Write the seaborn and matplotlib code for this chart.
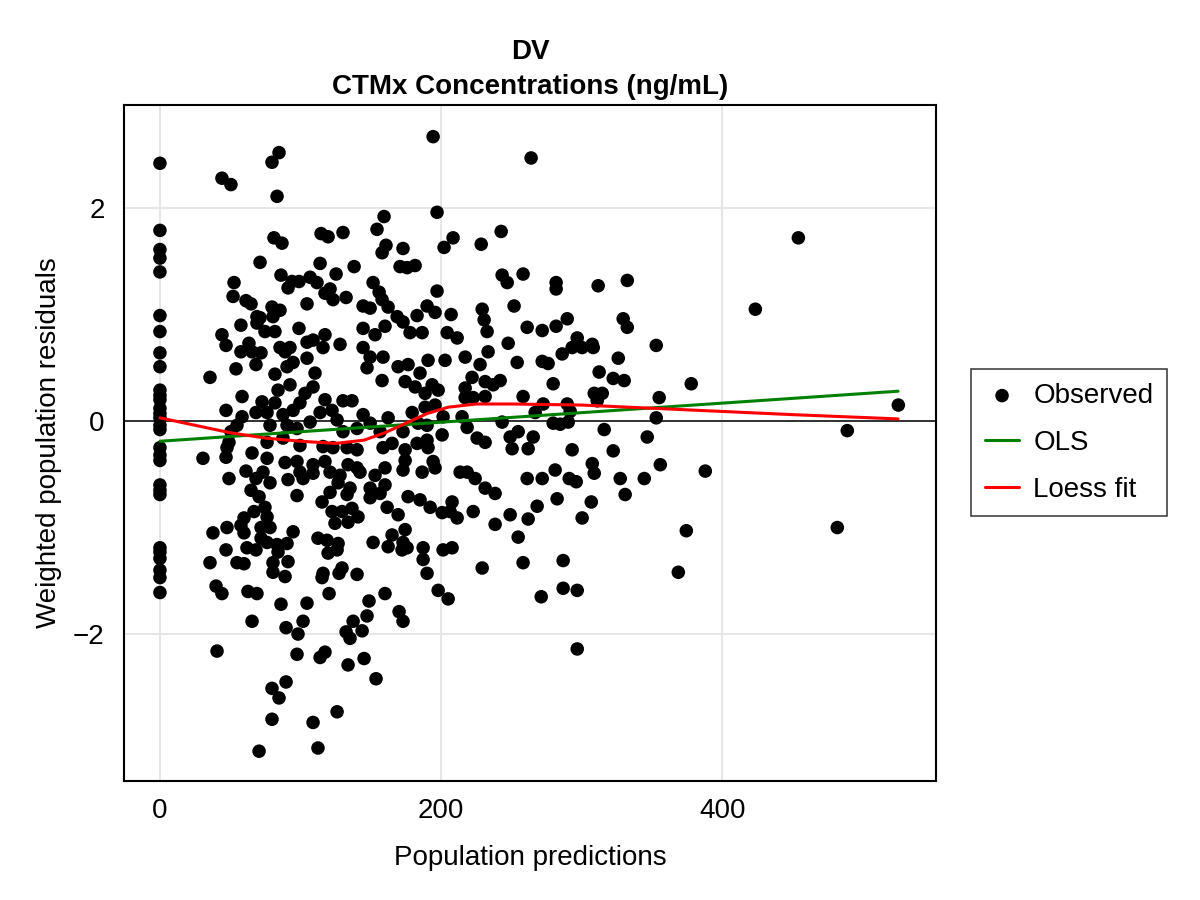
import numpy as np
import pandas as pd
import matplotlib
matplotlib.use("Agg")
import matplotlib.pyplot as plt
import seaborn as sns

# Observationer med populasjonsprediksjon lik 0
pred_zero = [0, 0, 0, 0, 0, 0, 0, 0, 0, 0,
             0, 0, 0, 0, 0, 0, 0, 0, 0, 0,
             0, 0, 0, 0, 0, 0, 0, 0, 0]
res_zero = [2.42, 1.79, 1.61, 1.53, 1.40, 0.99, 0.84, 0.64, 0.51, 0.29,
            0.24, 0.20, 0.12, 0.07, 0.03, -0.04, -0.08, -0.25, -0.32, -0.37,
            -0.60, -0.65, -0.69, -1.19, -1.23, -1.29, -1.40, -1.47, -1.61]

# Øvre del av punktskyen (residual > ~0.85)
pred_upper = [44.1, 50.5, 79.7, 84.7, 83.3, 194.3, 264.0, 197.1,
              159.4, 154.4, 81.1, 86.8, 114.6, 119.6, 130.2, 160.8, 158.0, 71.2,
              113.9, 138.1, 125.3, 86.1, 106.8, 93.9, 98.9, 111.7, 91.1, 151.6,
              155.9, 158.0, 121.0, 117.4, 123.1, 132.4, 104.6, 79.7, 85.4, 80.4,
              71.2, 144.5, 149.5, 162.3, 98.9, 144.5, 160.1,
              52.7, 52.0, 61.2, 64.8, 69.0, 69.0, 57.6,
              202.1, 208.5, 228.5, 242.7, 172.9, 170.8, 175.8, 181.5, 197.1, 243.4,
              247.0, 258.3, 168.7, 172.9, 182.9, 190.0, 195.7, 207.1, 229.2, 230.6, 251.9,
              281.8, 281.8, 311.7, 332.4, 289.7, 261.2, 271.9, 281.8, 329.5, 332.4, 454.1, 423.5]
res_upper = [2.28, 2.22, 2.43, 2.52, 2.11, 2.67, 2.47, 1.96,
             1.92, 1.80, 1.72, 1.67, 1.76, 1.73, 1.77, 1.65, 1.58, 1.49,
             1.48, 1.45, 1.38, 1.37, 1.35, 1.31, 1.31, 1.30, 1.25, 1.30,
             1.21, 1.14, 1.24, 1.20, 1.14, 1.16, 1.10, 1.07, 1.04, 0.98,
             0.97, 1.08, 1.06, 1.07, 0.87, 0.87, 0.89,
             1.30, 1.17, 1.13, 1.10, 0.98, 0.92, 0.90,
             1.63, 1.72, 1.66, 1.78, 1.62, 1.45, 1.44, 1.46, 1.22, 1.37,
             1.30, 1.38, 0.98, 0.93, 0.99, 1.08, 1.02, 1.00, 1.05, 0.95, 1.08,
             1.30, 1.24, 1.27, 1.32, 0.96, 0.88, 0.85, 0.89, 0.96, 0.88, 1.72, 1.05]

# Midtre del, venstre side (prediksjon < ~75)
pred_mid_left = [44.1, 47.0, 63.3, 57.6, 65.5, 71.9, 68.3, 54.1, 35.6, 58.4,
                 47.0, 58.4, 68.3, 72.6, 54.8, 50.5, 49.1, 47.7, 30.6, 47.0,
                 65.5, 61.2, 49.1, 68.3, 64.8, 70.5, 66.9, 59.8, 57.6, 47.7,
                 37.7, 59.8, 71.9, 47.0, 61.9, 68.3, 71.9]
res_mid_left = [0.81, 0.71, 0.73, 0.65, 0.65, 0.64, 0.53, 0.49, 0.41, 0.23,
                0.10, 0.04, 0.08, 0.18, -0.04, -0.10, -0.20, -0.25, -0.35, -0.34,
                -0.30, -0.47, -0.54, -0.54, -0.65, -0.71, -0.85, -0.91, -0.98, -1.00,
                -1.05, -1.05, -1.00, -1.21, -1.19, -1.21, -1.10]

# Midtre del, sentrum (prediksjon ~75-165)
pred_mid_center = [74.7, 81.8, 153.0, 85.4, 92.5, 89.0, 104.6, 108.9, 117.4, 116.0,
                   128.1, 144.5, 149.5, 158.7, 104.6, 81.8, 90.4, 94.7, 110.3, 147.3,
                   158.0, 92.5, 84.0, 108.9, 103.2, 81.8, 99.6, 117.4, 130.2, 136.6,
                   94.7, 87.5, 76.2, 113.9, 122.4, 106.8, 126.0, 144.5, 149.5, 162.3,
                   78.3, 90.4, 97.5, 130.2, 140.2, 156.6, 76.2, 87.5, 99.6, 116.0,
                   123.1, 133.1, 140.2, 158.7, 76.2, 89.0, 97.5, 108.9, 117.4, 133.8,
                   140.2, 160.1, 73.3, 99.6, 108.9, 121.0, 128.1, 142.3, 153.0, 78.3,
                   91.1, 101.8, 126.7, 135.2, 149.5, 160.1, 121.0, 97.5, 133.1, 149.5,
                   156.6, 74.7, 115.3, 122.4, 129.5, 136.6, 76.2, 124.5, 133.8, 140.9,
                   161.6, 78.3, 94.7, 112.4, 118.9, 126.7, 76.2, 83.3, 90.4, 151.6,
                   162.3, 126.0]
res_mid_center = [0.84, 0.84, 0.81, 0.69, 0.69, 0.65, 0.74, 0.76, 0.81, 0.69,
                  0.72, 0.69, 0.60, 0.60, 0.59, 0.44, 0.51, 0.55, 0.45, 0.50,
                  0.38, 0.34, 0.29, 0.32, 0.26, 0.17, 0.17, 0.20, 0.19, 0.19,
                  0.10, 0.06, 0.08, 0.08, 0.10, -0.01, 0.01, 0.06, -0.02, 0.03,
                  -0.04, -0.04, -0.07, -0.10, -0.07, -0.10, -0.20, -0.16, -0.23, -0.24,
                  -0.25, -0.25, -0.27, -0.25, -0.35, -0.39, -0.38, -0.41, -0.38, -0.41,
                  -0.44, -0.44, -0.48, -0.48, -0.49, -0.48, -0.51, -0.48, -0.51, -0.58,
                  -0.55, -0.54, -0.58, -0.63, -0.63, -0.60, -0.67, -0.70, -0.69, -0.72,
                  -0.68, -0.81, -0.76, -0.85, -0.85, -0.82, -0.90, -0.96, -0.95, -0.90,
                  -0.81, -1.00, -1.04, -1.10, -1.12, -1.15, -1.14, -1.16, -1.15, -1.14,
                  -1.18, -1.21]

# Midtre del, høyre side (prediksjon ~165-260)
pred_mid_right = [177.9, 186.5, 204.3, 211.4, 232.7, 247.7, 169.4, 176.5, 190.7, 185.0,
                  202.8, 217.1, 233.4, 227.7, 254.1, 174.4, 181.5, 188.6, 193.6, 197.9,
                  222.0, 231.3, 242.0, 237.0, 217.1, 217.1, 222.8, 231.3, 258.3, 188.6,
                  195.7, 179.4, 201.4, 214.9, 183.6, 190.0, 172.9, 218.5, 243.4, 254.8,
                  200.7, 225.6, 231.3, 182.9, 190.0, 190.7, 165.1, 174.4, 249.1, 250.5,
                  174.4, 172.9, 194.3, 195.7, 186.5, 213.5, 218.5, 224.2, 231.3, 238.4,
                  176.5, 185.0, 192.2, 207.8, 200.7, 206.4, 211.4, 222.8, 169.4, 249.1,
                  238.4, 174.4, 165.1, 254.8, 172.9, 175.8, 187.2, 201.4, 207.8]
res_mid_right = [0.83, 0.83, 0.83, 0.78, 0.84, 0.73, 0.51, 0.53, 0.57, 0.45,
                 0.57, 0.60, 0.65, 0.53, 0.55, 0.37, 0.32, 0.26, 0.34, 0.29,
                 0.41, 0.37, 0.38, 0.34, 0.31, 0.22, 0.22, 0.23, 0.23, 0.13,
                 0.15, 0.08, 0.04, 0.04, -0.02, -0.04, -0.10, -0.06, -0.01, -0.10,
                 -0.13, -0.16, -0.20, -0.21, -0.18, -0.25, -0.21, -0.27, -0.15, -0.26,
                 -0.37, -0.46, -0.38, -0.44, -0.48, -0.48, -0.48, -0.54, -0.63, -0.68,
                 -0.71, -0.74, -0.81, -0.76, -0.86, -0.85, -0.91, -0.85, -0.88, -0.88,
                 -0.97, -1.02, -1.07, -1.09, -1.14, -1.19, -1.19, -1.21, -1.19]

# Midtre del, ytterst til høyre (prediksjon > 260)
pred_mid_far = [296.8, 293.2, 300.3, 307.5, 308.2, 353.0, 286.1, 271.9, 276.1, 326.0,
                312.4, 322.4, 330.2, 279.7, 377.9, 308.9, 314.6, 311.0, 355.1, 272.6,
                289.7, 266.9, 291.8, 525.2, 353.0, 279.7, 284.7, 290.4, 265.5, 316.0,
                346.6, 488.9, 261.9, 293.2, 322.4, 307.5, 308.9, 281.1, 355.9, 387.9,
                261.2, 271.9, 291.1, 296.1, 327.4, 344.5, 330.9, 282.5, 306.8, 268.3,
                261.9, 300.3, 374.4, 481.8]
res_mid_far = [0.78, 0.69, 0.69, 0.72, 0.69, 0.71, 0.63, 0.56, 0.54, 0.59,
               0.46, 0.40, 0.38, 0.35, 0.35, 0.26, 0.26, 0.19, 0.22, 0.16,
               0.16, 0.08, 0.09, 0.15, 0.03, -0.02, -0.03, -0.01, -0.15, -0.08,
               -0.15, -0.09, -0.26, -0.27, -0.28, -0.40, -0.49, -0.46, -0.41, -0.47,
               -0.54, -0.54, -0.54, -0.57, -0.54, -0.54, -0.69, -0.73, -0.76, -0.80,
               -0.92, -0.91, -1.03, -1.00]

# Nedre del av punktskyen (residual < ~-1.2)
pred_lower = [35.6, 54.8, 59.8, 39.9, 44.1, 62.6, 69.0, 65.5, 40.6, 70.5,
              84.0, 80.4, 80.4, 91.1, 89.0, 119.6, 116.0, 115.3, 129.5, 127.4,
              140.2, 120.3, 86.1, 104.6, 101.8, 89.7, 98.2, 137.4, 132.4, 135.2,
              143.8, 147.3, 148.7, 160.1, 97.5, 117.4, 113.9, 133.8, 145.2, 153.7,
              89.7, 79.7, 84.7, 79.7, 126.0, 108.9, 112.4,
              172.2, 187.2, 190.0, 229.2, 258.3, 197.9, 205.0, 170.1, 172.9,
              286.8, 368.7, 271.2, 286.8, 296.8, 296.8]
res_lower = [-1.33, -1.33, -1.34, -1.55, -1.62, -1.60, -1.62, -1.88, -2.16, -3.10,
             -1.23, -1.33, -1.42, -1.32, -1.46, -1.24, -1.43, -1.47, -1.38, -1.43,
             -1.44, -1.62, -1.72, -1.71, -1.88, -1.94, -2.00, -1.88, -1.98, -2.04,
             -1.97, -1.83, -1.69, -1.62, -2.19, -2.17, -2.22, -2.29, -2.23, -2.42,
             -2.45, -2.51, -2.60, -2.80, -2.73, -2.83, -3.07,
             -1.21, -1.30, -1.43, -1.38, -1.33, -1.59, -1.67, -1.79, -1.88,
             -1.31, -1.42, -1.65, -1.57, -1.59, -2.14]

# OLS-linje og Loess-kurve
ols_x = [0, 525]
ols_y = [-0.19, 0.28]
loess_x = [0, 25, 50, 75, 100, 125, 145, 160, 175, 190, 205, 225, 250, 300, 350, 400, 450, 525]
loess_y = [0.03, -0.04, -0.11, -0.16, -0.19, -0.21, -0.18, -0.11, -0.02, 0.07,
           0.13, 0.16, 0.16, 0.15, 0.12, 0.09, 0.06, 0.02]

x_ticks = [0, 200, 400]
y_ticks = [-2, 0, 2]

pred = pred_zero + pred_upper + pred_mid_left + pred_mid_center + pred_mid_right + pred_mid_far + pred_lower
res = res_zero + res_upper + res_mid_left + res_mid_center + res_mid_right + res_mid_far + res_lower
assert len(pred) == len(res), (len(pred), len(res))
df = pd.DataFrame({'pred': pred, 'res': res})

sns.set_theme(style="white")
plt.rcParams['font.family'] = ['Liberation Sans', 'DejaVu Sans']
plt.rcParams['text.color'] = 'black'
plt.rcParams['axes.labelcolor'] = 'black'
plt.rcParams['xtick.color'] = 'black'
plt.rcParams['ytick.color'] = 'black'

fig = plt.figure(figsize=(12, 9), dpi=100)
ax = fig.add_axes([0.1033, 0.1322, 0.6767, 0.7511])

ax.grid(True, color='#e6e6e6', linewidth=1.4)
ax.set_axisbelow(True)
ax.axhline(0, color='black', linewidth=1.1, zorder=2)

sns.scatterplot(data=df, x='pred', y='res', ax=ax, color='black', s=95,
                edgecolor='none', label='Observed', zorder=3)
sns.lineplot(x=ols_x, y=ols_y, ax=ax, color='#008000', linewidth=2.2,
             label='OLS', zorder=4)
sns.lineplot(x=loess_x, y=loess_y, ax=ax, color='red', linewidth=2.2,
             label='Loess fit', zorder=5, sort=False, estimator=None)

ax.set_xlim(-25.6, 552)
ax.set_ylim(-3.38, 2.967)
ax.set_xticks(x_ticks)
ax.set_yticks(y_ticks)
ax.tick_params(length=0, labelsize=20, colors='black')
ax.tick_params(axis='x', pad=12)
ax.tick_params(axis='y', pad=14)

for sp in ax.spines.values():
    sp.set_color('black')
    sp.set_linewidth(1.5)

ax.set_xlabel("Population predictions", fontsize=20, labelpad=15, color='black')
ax.set_ylabel("Weighted population residuals", fontsize=20, labelpad=8, color='black')
ax.set_title("DV\nCTMx Concentrations (ng/mL)", fontsize=20, fontweight='bold',
             pad=8, linespacing=1.45, color='black')

# Legenden flyttes litt ned slik at radene står der de gjør i originalen
leg = ax.legend(loc='upper left', bbox_to_anchor=(0.809, 0.590),
                bbox_transform=fig.transFigure, frameon=True, fancybox=False,
                edgecolor='black', fontsize=20, borderpad=0.5, labelspacing=0.75,
                handlelength=1.25, handletextpad=0.5, borderaxespad=0)
leg.get_frame().set_linewidth(1.1)
for t in leg.get_texts():
    t.set_color('black')

fig.savefig("out.png", dpi=100)
